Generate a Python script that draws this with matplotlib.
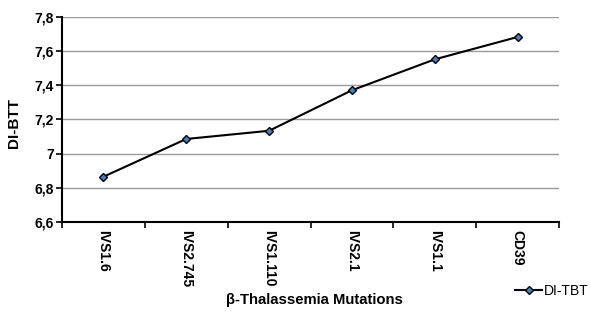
import matplotlib
matplotlib.use("Agg")
import matplotlib.pyplot as plt
import numpy as np

categories = ["IVS1.6", "IVS2.745", "IVS1.110", "IVS2.1", "IVS1.1", "CD39"]
di_tbt = [6.865, 7.086, 7.134, 7.371, 7.552, 7.683]
yticks = [6.6, 6.8, 7.0, 7.2, 7.4, 7.6, 7.8]
ytick_labels = ["6,6", "6,8", "7", "7,2", "7,4", "7,6", "7,8"]

plt.rcParams['font.family'] = ['Liberation Sans', 'DejaVu Sans']

fig = plt.figure(figsize=(5.9, 3.15), dpi=100)
ax = fig.add_axes([62/590, 1-222/315, (559-62)/590, (222-17)/315])

x = np.arange(len(categories))
line, = ax.plot(x, di_tbt, color='black', lw=1.5, marker='D', markersize=4.5,
                markerfacecolor='#4a7ebb', markeredgecolor='black', markeredgewidth=1.0,
                label='DI-TBT', zorder=3)

ax.set_xlim(-0.5, len(categories)-0.5)
ax.set_ylim(6.6, 7.8)
ax.set_yticks(yticks)
ax.set_yticklabels(ytick_labels, fontsize=10, fontweight='bold')
ax.set_xticks(x)
ax.set_xticklabels(categories, rotation=-90, fontsize=10, fontweight='bold', va='top')
ax.set_xticks(np.arange(-0.5, len(categories), 1.0), minor=True)
ax.tick_params(axis='x', which='major', length=0, pad=6)
ax.tick_params(axis='x', which='minor', length=4, width=1.2, direction='out')
ax.tick_params(axis='y', length=4, width=1.2, direction='out', pad=2)

for y in yticks[1:]:
    ax.axhline(y, color='#9a9a9a', lw=1.0, zorder=1)

ax.spines['top'].set_visible(False)
ax.spines['right'].set_visible(False)
ax.spines['left'].set_linewidth(1.5)
ax.spines['bottom'].set_linewidth(1.5)

fig.text(14/590, 1-123/315, "DI-BTT", rotation=90, fontsize=11, fontweight='bold',
         ha='center', va='center')
fig.text(314/590, 1-300/315, "β-Thalassemia Mutations", fontsize=10.7, fontweight='bold',
         ha='center', va='center')

fig.legend(handles=[line], loc='center left', bbox_to_anchor=(515/590, 1-291/315),
           frameon=False, fontsize=10, handlelength=1.95, handletextpad=0.1,
           borderpad=0, borderaxespad=0)

fig.savefig("out.png", dpi=100)
